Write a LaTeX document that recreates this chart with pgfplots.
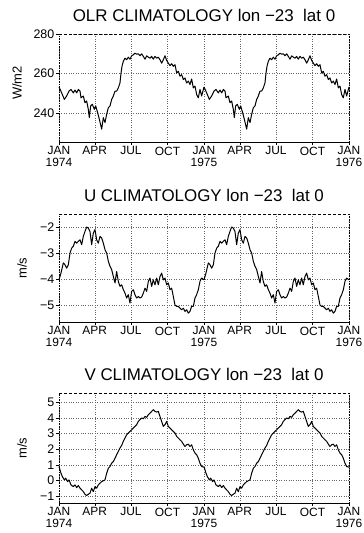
\documentclass[border=0pt]{standalone}
\usepackage{fontspec}
\setmainfont{Liberation Sans}
\usepackage{pgfplots}
\usepackage{pgfplotstable}
\pgfplotsset{compat=1.18}

\pgfplotstableread{
d v
0 253.3
6.7 250.3
13.4 247.0
19.3 248.7
25.2 251.2
30.2 252.0
36.1 250.3
40.3 251.7
44.5 250.3
48.7 252.0
52.9 251.2
55.4 247.8
61.2 248.7
65.4 245.3
69.6 246.2
73.8 242.0
76.3 237.8
79.7 243.7
83.9 244.5
88.9 242.0
92.3 243.7
97.3 240.3
101.5 237.0
107.4 232.0
111.6 237.8
115.8 235.3
120.0 239.5
124.2 242.8
128.4 243.7
132.6 247.0
136.8 248.7
141.0 251.2
145.1 251.2
149.3 252.8
153.5 255.3
156.1 260.3
158.6 263.7
161.9 266.2
166.1 267.8
170.3 267.0
174.5 268.3
178.7 267.3
182.9 269.0
187.1 269.5
191.3 270.3
195.5 269.8
199.7 270.0
203.9 269.0
208.1 270.0
212.3 268.7
216.5 267.3
220.7 269.0
224.9 268.3
229.0 267.8
233.2 268.7
237.4 267.3
241.6 268.7
245.8 267.8
250.0 268.3
254.2 267.0
258.4 265.3
262.6 267.0
266.8 269.0
271.0 266.7
275.2 265.3
279.4 264.0
283.6 265.0
287.8 263.7
292.0 264.5
296.2 260.3
300.4 261.2
304.6 258.7
308.8 259.5
313.0 257.0
317.1 257.8
321.3 255.3
325.5 256.2
329.7 254.5
333.9 257.3
338.1 252.8
342.3 253.7
346.5 249.5
350.7 247.8
354.9 252.0
359.1 248.7
365 253.3
}\olr

\pgfplotstableread{
d v
0 -4.03
5.0 -3.77
10.9 -3.38
15.1 -3.45
19.3 -3.58
23.5 -3.45
27.7 -3.00
31.9 -2.81
36.1 -2.74
40.3 -2.55
44.5 -2.62
48.7 -2.55
52.9 -2.49
57.1 -2.68
61.2 -2.36
65.4 -2.17
69.6 -2.00
73.8 -2.04
78.0 -2.17
82.2 -2.68
86.4 -2.23
90.6 -2.10
94.8 -2.49
99.0 -2.62
103.2 -2.36
107.4 -2.42
111.6 -2.62
115.8 -2.87
120.0 -3.00
124.2 -3.32
128.4 -3.51
132.6 -3.64
136.8 -3.90
141.0 -4.15
145.1 -3.71
149.3 -4.09
153.5 -4.28
157.7 -4.22
161.9 -4.41
166.1 -4.54
170.3 -4.73
174.5 -4.60
178.7 -4.92
182.9 -4.47
187.1 -4.41
191.3 -4.60
195.5 -4.73
199.7 -4.67
203.9 -4.73
208.1 -4.69
212.3 -4.54
216.5 -4.35
220.7 -4.47
224.9 -4.09
229.0 -3.96
233.2 -4.28
237.4 -4.03
241.6 -4.22
245.8 -3.96
250.0 -4.22
254.2 -3.90
258.4 -3.77
262.6 -4.03
266.8 -3.96
271.0 -4.22
275.2 -4.15
279.4 -4.41
283.6 -4.35
287.8 -4.67
292.0 -5.00
296.2 -5.05
300.4 -5.05
304.6 -5.12
308.8 -5.18
313.0 -5.12
317.1 -5.24
321.3 -5.18
325.5 -5.31
329.7 -5.24
333.9 -5.05
338.1 -5.05
342.3 -4.73
346.5 -4.60
350.7 -4.41
354.9 -4.09
359.1 -3.96
365 -4.03
}\uwind

\pgfplotstableread{
d v
0 0.89
5.0 0.46
8.4 0.25
13.4 0.03
16.8 0.14
21.8 -0.08
25.2 0.03
30.2 -0.29
36.1 -0.40
40.3 -0.29
44.5 -0.46
48.7 -0.33
52.9 -0.50
57.1 -0.61
61.2 -0.72
65.4 -0.89
69.6 -0.97
73.8 -0.89
78.0 -0.82
82.2 -0.50
86.4 -0.72
90.6 -0.40
94.8 -0.50
99.0 -0.29
103.2 -0.18
107.4 -0.08
115.8 0.03
120.0 0.46
124.2 0.78
128.4 0.89
132.6 1.10
136.8 1.21
141.0 1.42
145.1 1.64
149.3 1.85
153.5 2.07
157.7 2.24
161.9 2.50
166.1 2.71
170.3 2.92
174.5 3.03
178.7 3.14
182.9 3.24
187.1 3.35
191.3 3.46
195.5 3.57
199.7 3.78
203.9 3.89
208.1 4.00
212.3 3.95
216.5 4.10
220.7 4.04
224.9 4.21
229.0 4.31
233.2 4.42
237.4 4.53
241.6 4.42
245.8 4.38
250.0 4.42
254.2 4.10
258.4 3.78
262.6 3.46
266.8 3.57
271.0 3.78
275.2 3.46
279.4 3.35
283.6 3.24
287.8 3.14
292.0 3.03
296.2 2.82
300.4 2.71
304.6 2.60
308.8 2.50
313.0 2.32
317.1 2.17
321.3 2.28
325.5 2.32
329.7 2.17
333.9 2.28
338.1 1.96
342.3 1.75
346.5 1.64
350.7 1.42
354.9 1.10
359.1 0.89
365 0.84
}\vwind

\pgfplotsset{clim/.style={
  scale only axis, width=290bp,
  xmin=0, xmax=730,
  xtick={0,90,181,273,365,455,546,638,730},
  xticklabels={JAN\\1974,APR,JUL,OCT,JAN\\1975,APR,JUL,OCT,JAN\\1976},
  xticklabel style={align=center, font=\fontsize{12}{11.5}\selectfont, inner sep=1.5bp},
  yticklabel style={font=\fontsize{12.5}{12}\selectfont, inner sep=1.5bp},
  ylabel style={font=\fontsize{13}{13}\selectfont},
  title style={font=\fontsize{17}{17}\selectfont, at={(0.5,1)}, anchor=base, yshift=7bp},
  grid=major, major grid style={dotted, black!60, line width=0.5bp},
  axis x line*=bottom, axis y line*=left,
  x axis line style={-, line width=0.6bp},
  y axis line style={-, densely dotted, line width=0.6bp},
  tick align=outside, major tick length=3bp, tick style={black, line width=0.5bp},
  /pgf/number format/assume math mode=true,
  clip=false,
}}
\tikzset{clim line/.style={black, line width=1bp, mark=none, line join=round}}

\begin{document}
\begin{tikzpicture}
\useasboundingbox (0,0) rectangle (364bp,533bp);

\begin{axis}[clim, at={(59bp,391bp)}, anchor=south west, height=108bp,
  ymin=225.5, ymax=280, ytick={240,260,280},
  yticklabels={240,260,280},
  title={OLR CLIMATOLOGY lon −23\ \ lat 0},
  ylabel={W/m2}, ylabel style={at={(axis description cs:-0.145,0.546)}, anchor=center}]
\addplot[clim line] table[x=d, y=v] {\olr};
\addplot[clim line] table[x expr=\thisrow{d}+365, y=v] {\olr};
\draw[densely dashed, line width=0.6bp] (rel axis cs:0,1) -- (rel axis cs:1,1);
\draw[densely dotted, line width=0.6bp] (rel axis cs:1,1) -- (rel axis cs:1,0);
\end{axis}

\begin{axis}[clim, at={(59bp,211bp)}, anchor=south west, height=108bp,
  ymin=-5.65, ymax=-1.5, ytick={-5,-4,-3,-2},
  yticklabels={−5,−4,−3,−2},
  title={U CLIMATOLOGY lon −23\ \ lat 0},
  ylabel={m/s}, ylabel style={at={(axis description cs:-0.128,0.5)}, anchor=center}]
\addplot[clim line] table[x=d, y=v] {\uwind};
\addplot[clim line] table[x expr=\thisrow{d}+365, y=v] {\uwind};
\draw[densely dashed, line width=0.6bp] (rel axis cs:0,1) -- (rel axis cs:1,1);
\draw[densely dotted, line width=0.6bp] (rel axis cs:1,1) -- (rel axis cs:1,0);
\end{axis}

\begin{axis}[clim, at={(59bp,30bp)}, anchor=south west, height=110bp,
  ymin=-1.45, ymax=5.6, ytick={-1,0,1,2,3,4,5},
  yticklabels={−1,0,1,2,3,4,5},
  title={V CLIMATOLOGY lon −23\ \ lat 0},
  ylabel={m/s}, ylabel style={at={(axis description cs:-0.128,0.5)}, anchor=center}]
\addplot[clim line] table[x=d, y=v] {\vwind};
\addplot[clim line] table[x expr=\thisrow{d}+365, y=v] {\vwind};
\draw[densely dashed, line width=0.6bp] (rel axis cs:0,1) -- (rel axis cs:1,1);
\draw[densely dotted, line width=0.6bp] (rel axis cs:1,1) -- (rel axis cs:1,0);
\end{axis}
\end{tikzpicture}
\end{document}
